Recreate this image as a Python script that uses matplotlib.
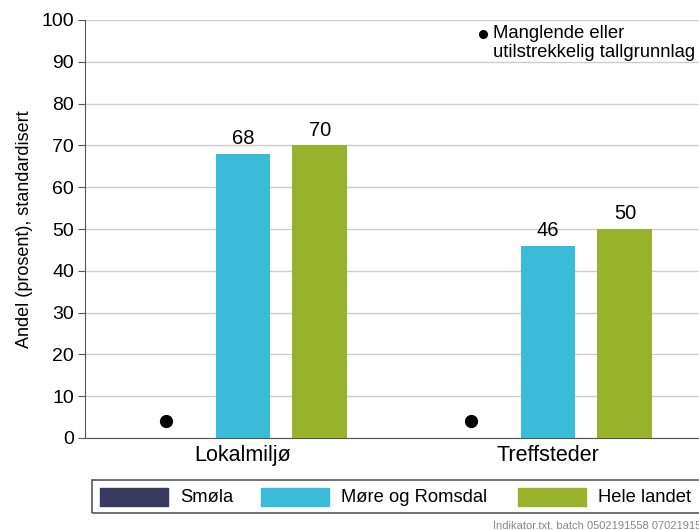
import matplotlib
matplotlib.use('Agg')
import matplotlib.pyplot as plt
from matplotlib.patches import Rectangle
from matplotlib.lines import Line2D
import numpy as np

plt.rcParams['font.family'] = ['Liberation Sans', 'DejaVu Sans']

# data
categories = ['Lokalmiljø', 'Treffsteder']
series = ['Smøla', 'Møre og Romsdal', 'Hele landet']
colors = ['#373a5e', '#3abcd8', '#98b32b']
more_romsdal = [68, 46]
hele_landet = [70, 50]
smola_missing = [True, True]
yticks = list(range(0, 101, 10))

fig = plt.figure(figsize=(6.99, 5.30), dpi=100)
ax = fig.add_axes([85 / 699, 1 - 438 / 530, 1 - 85 / 699, (438 - 20) / 530])

x = np.arange(len(categories))
off = 0.252
w = 0.18

b1 = ax.bar(x, more_romsdal, width=w, color=colors[1], zorder=3)
b2 = ax.bar(x + off, hele_landet, width=w, color=colors[2], zorder=3)
for bars, vals in [(b1, more_romsdal), (b2, hele_landet)]:
    for b, v in zip(bars, vals):
        ax.annotate(str(v), (b.get_x() + b.get_width() / 2, v), xytext=(0, 4),
                    textcoords='offset points', ha='center', va='bottom', fontsize=14.5)

# manglende tallgrunnlag -> prikk
for i, miss in enumerate(smola_missing):
    if miss:
        ax.plot(x[i] - off, 4, 'o', color='black', markersize=8.5, zorder=4)

ax.set_xlim(-0.518, 1.495)
ax.set_ylim(0, 100)
ax.set_yticks(yticks)
ax.set_xticks(x)
ax.set_xticklabels(categories, fontsize=15.5)
ax.tick_params(axis='y', labelsize=14, length=5, color='#555555', pad=3)
ax.tick_params(axis='x', length=0, pad=5)
ax.yaxis.grid(True, color='#cccccc', linewidth=1, zorder=0)
ax.set_axisbelow(True)
for s in ['top', 'right']:
    ax.spines[s].set_visible(False)
ax.spines['left'].set_color('#555555')
ax.spines['bottom'].set_color('#555555')
ax.set_ylabel('Andel (prosent), standardisert', fontsize=13, labelpad=6)

# note
fig.add_artist(Line2D([483 / 699], [1 - 34 / 530], marker='o', markersize=5.5,
                      color='black', transform=fig.transFigure))
fig.text(493 / 699, 1 - 43 / 530, 'Manglende eller\nutilstrekkelig tallgrunnlag',
         fontsize=13.3, va='center', ha='left', linespacing=1.12)

# legend box
fig.patches.append(Rectangle((92 / 699, 1 - 513 / 530), 0.99, 33 / 530,
                             transform=fig.transFigure, fill=False,
                             edgecolor='#555555', linewidth=1.2))
leg_x = [100, 261, 518]
for lx, name, c in zip(leg_x, series, colors):
    fig.patches.append(Rectangle((lx / 699, 1 - 506 / 530), 68 / 699, 18 / 530,
                                 transform=fig.transFigure, color=c))
    fig.text((lx + 80) / 699, 1 - 497 / 530, name, fontsize=13.2, va='center', ha='left')

fig.text(493 / 699, 1 - 525 / 530, 'Indikator.txt, batch 0502191558 07021915',
         fontsize=8, color='#888888', va='center', ha='left')

fig.savefig('out.png', dpi=100)
